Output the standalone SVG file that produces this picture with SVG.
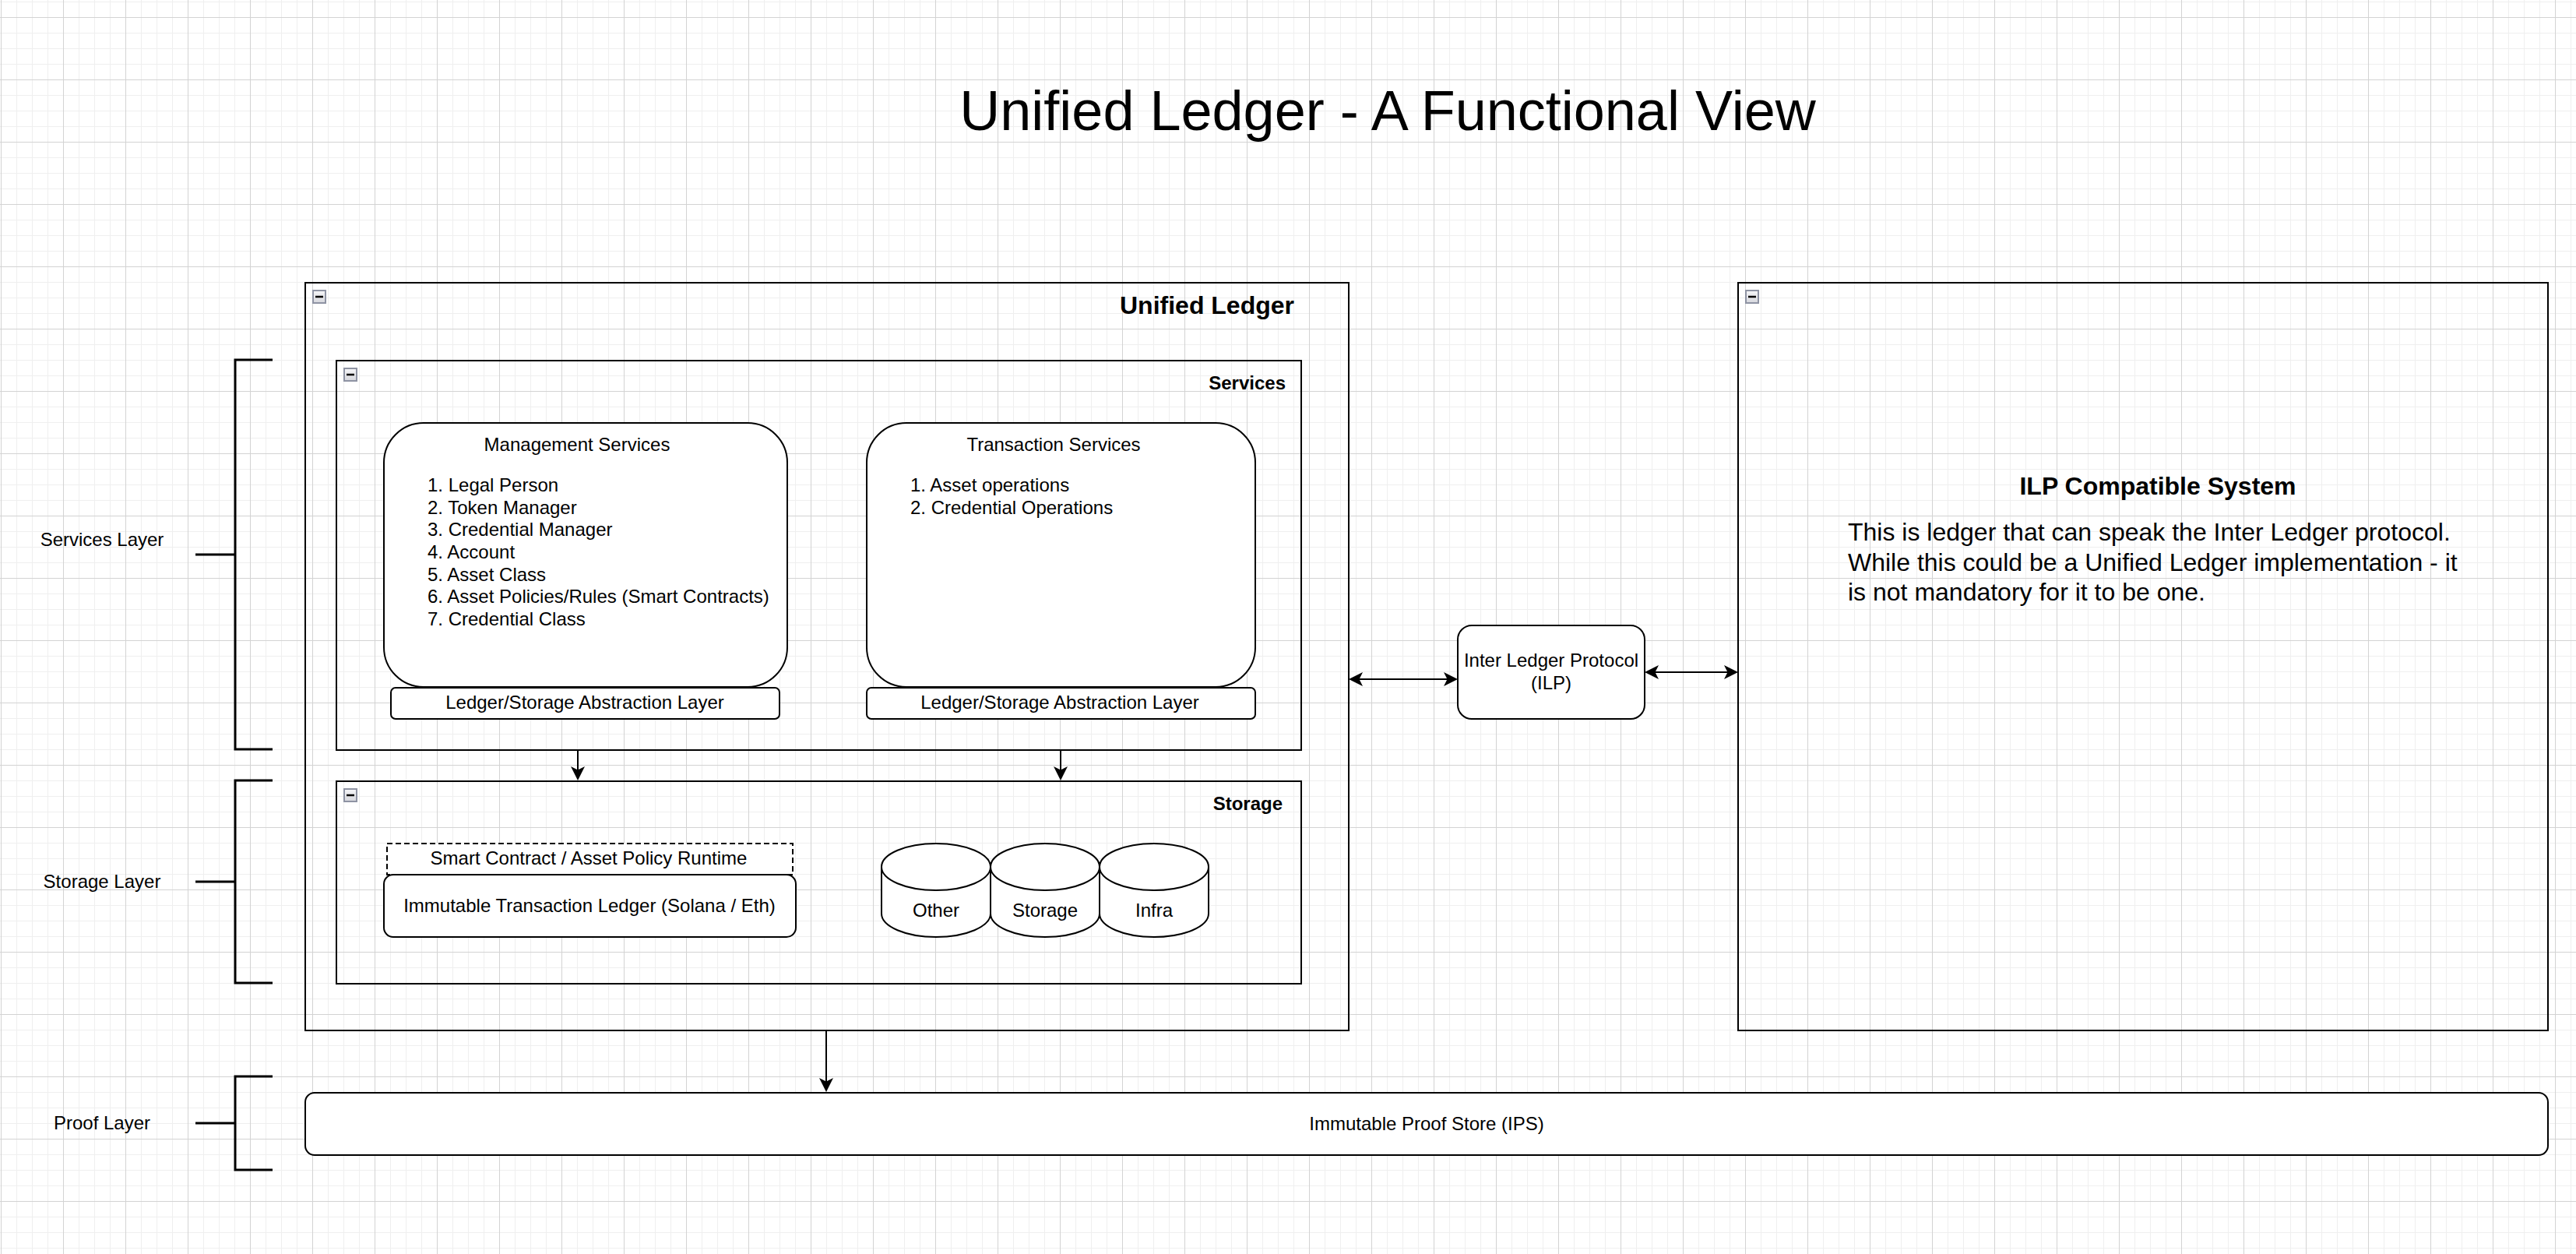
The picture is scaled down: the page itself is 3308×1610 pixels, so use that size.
<svg xmlns="http://www.w3.org/2000/svg" width="3308" height="1610" viewBox="0 0 3308 1610">
  <defs>
    <pattern id="grid" patternUnits="userSpaceOnUse" x="1" y="22" width="80" height="80">
      <path d="M20.5,0 V80 M40.5,0 V80 M60.5,0 V80 M0,20.5 H80 M0,40.5 H80 M0,60.5 H80" stroke="#efefef" stroke-width="1" fill="none"/>
      <path d="M0.5,0 V80 M0,0.5 H80" stroke="#d3d3d3" stroke-width="1" fill="none"/>
    </pattern>
    <linearGradient id="iconGrad" x1="0" y1="0" x2="0" y2="1">
      <stop offset="0" stop-color="#f6f6f8"/>
      <stop offset="1" stop-color="#d6d7dd"/>
    </linearGradient>
    <marker id="arrow" viewBox="-8 -10 20 20" refX="0" refY="0" markerWidth="20" markerHeight="20" markerUnits="userSpaceOnUse" orient="auto-start-reverse">
      <path d="M10,0 L-8,-9 L-3.5,0 L-8,9 Z" fill="#000" stroke="none"/>
    </marker>
    <g id="icon">
      <rect x="0" y="0" width="16" height="16" fill="url(#iconGrad)" stroke="#8e93a3" stroke-width="2"/>
      <line x1="3" y1="8" x2="13" y2="8" stroke="#000" stroke-width="2.5"/>
    </g>
  </defs>
  <style>
    text { font-family: "Liberation Sans", Arial, Helvetica, sans-serif; fill: #000; }
    .container { fill: none; stroke: #000; stroke-width: 2; }
    .box { fill: #fff; stroke: #000; stroke-width: 2; }
    .t24 { font-size: 24px; }
    .t32 { font-size: 32px; }
    .mid { text-anchor: middle; }
    .end { text-anchor: end; }
    .bold { font-weight: bold; }
    .bracket { fill: none; stroke: #000; stroke-width: 3; }
    .conn { fill: none; stroke: #000; stroke-width: 2; }
  </style>

  <rect x="0" y="0" width="3308" height="1610" fill="#fff"/>
  <rect x="0" y="0" width="3308" height="1610" fill="url(#grid)"/>

  <g id="title">
    <text x="1782" y="167" class="mid" font-size="72">Unified Ledger - A Functional View</text>
  </g>

  <g id="layer-brackets">
    <g id="services-layer">
      <path class="bracket" d="M350,462 H302 V962 H350 M251,712 H302"/>
      <text x="131" y="701" class="t24 mid">Services Layer</text>
    </g>
    <g id="storage-layer">
      <path class="bracket" d="M350,1002 H302 V1262 H350 M251,1132 H302"/>
      <text x="131" y="1140" class="t24 mid">Storage Layer</text>
    </g>
    <g id="proof-layer">
      <path class="bracket" d="M350,1382 H302 V1502 H350 M251,1442 H302"/>
      <text x="131" y="1450" class="t24 mid">Proof Layer</text>
    </g>
  </g>

  <g id="unified-ledger">
    <rect class="container" x="392" y="363" width="1340" height="960"/>
    <use href="#icon" x="402" y="373"/>
    <text x="1662" y="403" class="t32 end bold">Unified Ledger</text>
  </g>

  <g id="services">
    <rect class="container" x="432" y="463" width="1239" height="500"/>
    <use href="#icon" x="442" y="473"/>
    <text x="1651" y="500" class="t24 end bold">Services</text>
  </g>

  <g id="management-services">
    <rect class="box" x="493" y="543" width="518" height="339" rx="51" ry="51"/>
    <text x="741" y="579" class="t24 mid">Management Services</text>
    <text x="549" y="631" class="t24">1. Legal Person</text>
    <text x="549" y="660" class="t24">2. Token Manager</text>
    <text x="549" y="688" class="t24">3. Credential Manager</text>
    <text x="549" y="717" class="t24">4. Account</text>
    <text x="549" y="746" class="t24">5. Asset Class</text>
    <text x="549" y="774" class="t24">6. Asset Policies/Rules (Smart Contracts)</text>
    <text x="549" y="803" class="t24">7. Credential Class</text>
  </g>

  <g id="abstraction-layer-1">
    <rect class="box" x="502" y="883" width="499" height="40" rx="6" ry="6"/>
    <text x="751" y="910" class="t24 mid">Ledger/Storage Abstraction Layer</text>
  </g>

  <g id="transaction-services">
    <rect class="box" x="1113" y="543" width="499" height="339" rx="51" ry="51"/>
    <text x="1353" y="579" class="t24 mid">Transaction Services</text>
    <text x="1169" y="631" class="t24">1. Asset operations</text>
    <text x="1169" y="660" class="t24">2. Credential Operations</text>
  </g>

  <g id="abstraction-layer-2">
    <rect class="box" x="1113" y="883" width="499" height="40" rx="6" ry="6"/>
    <text x="1361" y="910" class="t24 mid">Ledger/Storage Abstraction Layer</text>
  </g>

  <g id="storage">
    <rect class="container" x="432" y="1003" width="1239" height="260"/>
    <use href="#icon" x="442" y="1013"/>
    <text x="1647" y="1040" class="t24 end bold">Storage</text>
  </g>

  <g id="smart-contract-runtime">
    <rect x="497" y="1083" width="521" height="40" fill="#fff" stroke="#000" stroke-width="2" stroke-dasharray="7 4"/>
    <text x="756" y="1110" class="t24 mid">Smart Contract / Asset Policy Runtime</text>
  </g>

  <g id="immutable-transaction-ledger">
    <rect class="box" x="493" y="1123" width="529" height="80" rx="12" ry="12"/>
    <text x="757" y="1171" class="t24 mid">Immutable Transaction Ledger (Solana / Eth)</text>
  </g>

  <g id="cylinder-other">
    <path class="box" d="M1132,1113 A70,30 0 0 1 1272,1113 V1173 A70,30 0 0 1 1132,1173 Z"/>
    <path class="conn" d="M1132,1113 A70,30 0 0 0 1272,1113"/>
    <text x="1202" y="1177" class="t24 mid">Other</text>
  </g>
  <g id="cylinder-storage">
    <path class="box" d="M1272,1113 A70,30 0 0 1 1412,1113 V1173 A70,30 0 0 1 1272,1173 Z"/>
    <path class="conn" d="M1272,1113 A70,30 0 0 0 1412,1113"/>
    <text x="1342" y="1177" class="t24 mid">Storage</text>
  </g>
  <g id="cylinder-infra">
    <path class="box" d="M1412,1113 A70,30 0 0 1 1552,1113 V1173 A70,30 0 0 1 1412,1173 Z"/>
    <path class="conn" d="M1412,1113 A70,30 0 0 0 1552,1113"/>
    <text x="1482" y="1177" class="t24 mid">Infra</text>
  </g>

  <g id="ilp">
    <rect class="box" x="1872" y="803" width="240" height="120" rx="18" ry="18"/>
    <text x="1992" y="856" class="t24 mid">Inter Ledger Protocol</text>
    <text x="1992" y="885" class="t24 mid">(ILP)</text>
  </g>

  <g id="ilp-compatible-system">
    <rect class="container" x="2232" y="363" width="1040" height="960"/>
    <use href="#icon" x="2242" y="373"/>
    <text x="2771" y="635" class="t32 mid bold">ILP Compatible System</text>
    <text x="2373" y="694" class="t32">This is ledger that can speak the Inter Ledger protocol.</text>
    <text x="2373" y="733" class="t32">While this could be a Unified Ledger implementation - it</text>
    <text x="2373" y="771" class="t32">is not mandatory for it to be one.</text>
  </g>

  <g id="immutable-proof-store">
    <rect class="box" x="392" y="1403" width="2880" height="80" rx="12" ry="12"/>
    <text x="1832" y="1451" class="t24 mid">Immutable Proof Store (IPS)</text>
  </g>

  <g id="connectors">
    <path class="conn" d="M742,963 V992" marker-end="url(#arrow)"/>
    <path class="conn" d="M1362,963 V992" marker-end="url(#arrow)"/>
    <path class="conn" d="M1061,1323 V1392" marker-end="url(#arrow)"/>
    <path class="conn" d="M1742,872 H1862" marker-start="url(#arrow)" marker-end="url(#arrow)"/>
    <path class="conn" d="M2122,863 H2222" marker-start="url(#arrow)" marker-end="url(#arrow)"/>
  </g>
</svg>
